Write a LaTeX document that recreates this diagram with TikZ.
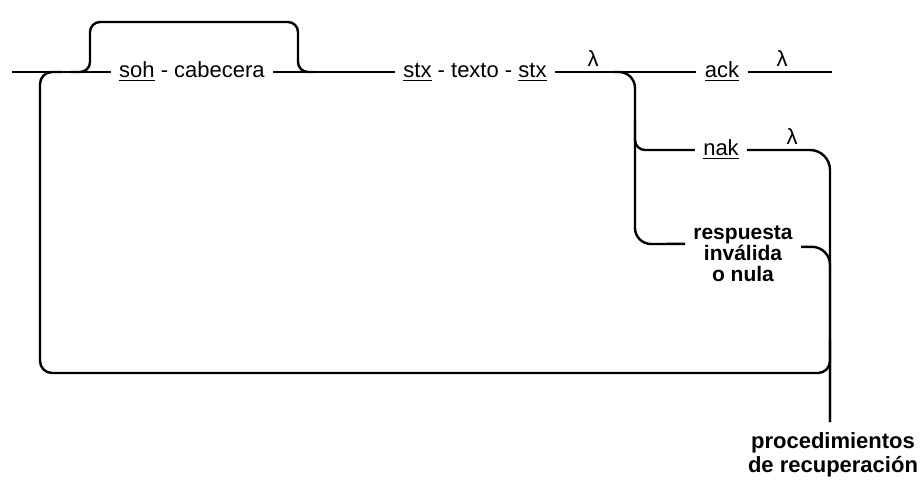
\documentclass[tikz,border=0pt]{standalone}
\usepackage{fontspec}
\setmainfont{Liberation Sans}
\usetikzlibrary{calc}

\begin{document}
\begin{tikzpicture}[x=0.5pt,y=-0.5pt,
  rail/.style={line width=1.2pt,rounded corners=5pt},
  lbl/.style={font=\fontsize{11}{13}\selectfont,inner sep=4pt,anchor=mid},
  lam/.style={font=\fontsize{11}{13}\selectfont,inner sep=0pt,anchor=base},
  bld/.style={font=\bfseries\fontsize{10.5}{10.5}\selectfont,align=center}]
  \useasboundingbox (0,0) rectangle (920,479);
  % labels on the main line
  \node[lbl] (soh) at (192,72) {\underline{soh} - cabecera};
  \node[lbl] (stx) at (475,72) {\underline{stx} - texto - \underline{stx}};
  \node[lbl] (ack) at (722,72) {\underline{ack}};
  \node[lbl] (nak) at (721,150) {\underline{nak}};
  \node[lam] (lamstx) at (593,66) {λ};
  \node[lam] (lamack) at (782,66) {λ};
  \node[lam] (lamnak) at (792,144) {λ};
  \node[bld,inner sep=4pt,anchor=north] (resp) at (743,217) {respuesta\\inválida\\o nula};
  \node[bld,inner sep=0pt,anchor=north,font=\bfseries\fontsize{11}{12}\selectfont] (proc) at (833,432) {procedimientos\\de recuperación};
  \coordinate (in) at (12,72);
  \coordinate (out) at (832,72);
  \coordinate (rec) at (830,422);
  \coordinate (bya) at (70,72);
  \coordinate (byb) at (313,72);
  \coordinate (back) at (62,72);
  \coordinate (fork) at (613,72);
  \coordinate (forknak) at (635,120);
  % main line
  \draw[rail] (in) -- (soh.mid west);
  \draw[rail] (soh.mid east) -- (stx.mid west);
  \draw[rail] (stx.mid east) -- (ack.mid west);
  \draw[rail] (ack.mid east) -- (out);
  % bypass over the header
  \draw[rail] (bya) -| (90,22) -| (298,72) -- (byb);
  % return loop
  \draw[rail,rounded corners=6pt] (back) -| (40,373) -| (830,340);
  % answers
  \draw[rail,rounded corners=8pt] (fork) -| (635,244) -- ($(resp.north west)!0.37!(resp.south west)$);
  \draw[rail] (forknak) |- (nak.mid west);
  \draw[rail,rounded corners=10pt] (nak.mid east) -| (rec);
  \draw[rail,rounded corners=9pt] ($(resp.north east)!0.41!(resp.south east)$) -| (rec);
\end{tikzpicture}
\end{document}
